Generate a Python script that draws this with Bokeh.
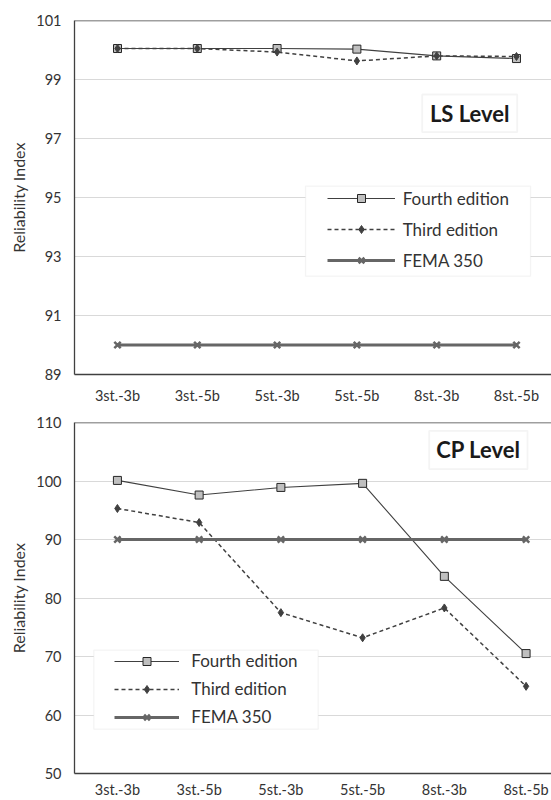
from bokeh.plotting import figure
from bokeh.layouts import column
from bokeh.models import Range1d, FixedTicker, Legend, LegendItem, Span, BoxAnnotation, Label
from bokeh.embed import file_html
from bokeh.resources import INLINE

categories = ["3st.-3b", "3st.-5b", "5st.-3b", "5st.-5b", "8st.-3b", "8st.-5b"]
series_names = ["Fourth edition", "Third edition", "FEMA 350"]

ls_fourth = [100.05, 100.05, 100.05, 100.03, 99.80, 99.71]
ls_third = [100.05, 100.05, 99.93, 99.63, 99.80, 99.78]
ls_fema = [90, 90, 90, 90, 90, 90]
ls_ticks = [89, 91, 93, 95, 97, 99, 101]

cp_fourth = [100.1, 97.6, 98.9, 99.6, 83.7, 70.5]
cp_third = [95.3, 92.9, 77.5, 73.2, 78.3, 64.9]
cp_fema = [90, 90, 90, 90, 90, 90]
cp_ticks = [50, 60, 70, 80, 90, 100, 110]

FONT = "Lato"
TXT = "#333333"


def make_panel(fourth, third, fema, ticks, fig_h, b_left, b_top, b_bottom,
               x_start, x_end, x_standoff, leg, box, title):
    p = figure(width=551, height=fig_h, x_range=Range1d(x_start, x_end),
               y_range=Range1d(ticks[0], ticks[-1]), output_backend="svg",
               toolbar_location=None, min_border_left=b_left, min_border_top=b_top,
               min_border_bottom=b_bottom, min_border_right=0)
    p.outline_line_color = None
    p.background_fill_color = "white"
    xs = list(range(len(categories)))

    p.xaxis.ticker = FixedTicker(ticks=xs)
    p.xaxis.major_label_overrides = {i: c for i, c in zip(xs, categories)}
    p.yaxis.ticker = FixedTicker(ticks=ticks)
    for ax in (p.xaxis, p.yaxis):
        ax.major_tick_out = 0
        ax.major_tick_in = 0
        ax.minor_tick_out = 0
        ax.minor_tick_in = 0
        ax.axis_line_color = "#404040"
        ax.axis_line_width = 1.3
        ax.major_label_text_font = FONT
        ax.major_label_text_font_size = "14.5px"
        ax.major_label_text_color = TXT
    p.xaxis.major_label_standoff = x_standoff
    p.yaxis.major_label_standoff = 13
    p.yaxis.axis_label = "Reliability Index"
    p.yaxis.axis_label_text_font = FONT
    p.yaxis.axis_label_text_font_style = "normal"
    p.yaxis.axis_label_text_font_size = "16px"
    p.yaxis.axis_label_text_color = TXT
    p.yaxis.axis_label_standoff = 5
    p.xgrid.grid_line_color = None
    p.ygrid.grid_line_color = "#d9d9d9"
    p.ygrid.grid_line_width = 1

    p.add_layout(Span(location=ticks[-1], dimension="width",
                      line_color="#404040", line_width=1.3))

    l1 = p.line(xs, fourth, line_color="#404040", line_width=1.1)
    s1 = p.scatter(xs, fourth, marker="square", size=8, fill_color="#bfbfbf",
                   line_color="#262626", line_width=1)
    l2 = p.line(xs, third, line_color="#404040", line_width=1.5, line_dash="4 3")
    s2 = p.scatter(xs, third, marker="diamond", size=8, fill_color="#404040",
                   line_color="#404040", line_width=1)
    l3 = p.line(xs, fema, line_color="#666666", line_width=3)
    s3 = p.scatter(xs, fema, marker="x", size=9, line_color="#666666", line_width=2.5)

    p.add_layout(BoxAnnotation(left=leg["box"][0], right=leg["box"][1],
                               bottom=leg["box"][2], top=leg["box"][3],
                               left_units="screen", right_units="screen",
                               bottom_units="screen", top_units="screen",
                               fill_color="white", fill_alpha=1,
                               line_color="#d9d9d9", line_width=1.3))
    items = [LegendItem(label=series_names[0], renderers=[l1, s1]),
             LegendItem(label=series_names[1], renderers=[l2, s2]),
             LegendItem(label=series_names[2], renderers=[l3, s3])]
    legend = Legend(items=items, location=leg["loc"], orientation="vertical",
                    border_line_color=None, background_fill_alpha=0,
                    glyph_width=leg["gw"], glyph_height=20, label_height=20,
                    spacing=leg["sp"], padding=0, margin=0,
                    label_standoff=leg["ls"], label_text_font=FONT,
                    label_text_font_size="17px", label_text_color=TXT)
    p.add_layout(legend)

    p.add_layout(BoxAnnotation(left=box[0], right=box[1], bottom=box[2], top=box[3],
                               left_units="screen", right_units="screen",
                               bottom_units="screen", top_units="screen",
                               fill_color="white", fill_alpha=1,
                               line_color="#d9d9d9", line_width=1.8))
    p.add_layout(Label(x=(box[0] + box[1]) / 2, y=(box[2] + box[3]) / 2,
                       x_units="screen", y_units="screen", text=title,
                       text_align="center", text_baseline="middle",
                       text_font=FONT, text_font_style="bold",
                       text_font_size="22px", text_color="#1a1a1a"))
    return p


p1 = make_panel(ls_fourth, ls_third, ls_fema, ls_ticks, 413, 74, 20, 39,
                -0.539, 5.439, 12,
                {"box": (231, 456, 98.3, 188.3), "loc": (252.7, 103.3),
                 "gw": 68, "sp": 10, "ls": 8},
                (347.7, 442.7, 242.3, 280), "LS Level")

p2 = make_panel(cp_fourth, cp_third, cp_fema, cp_ticks, 387, 73, 9, 26,
                -0.525, 5.311, 7,
                {"box": (19.3, 243.7, 44.3, 123.3), "loc": (40.3, 46),
                 "gw": 65, "sp": 7, "ls": 12},
                (354.7, 453, 304.4, 342.7), "CP Level")

layout = column(p1, p2, spacing=0)
open("out.html", "w").write(file_html(layout, INLINE))
